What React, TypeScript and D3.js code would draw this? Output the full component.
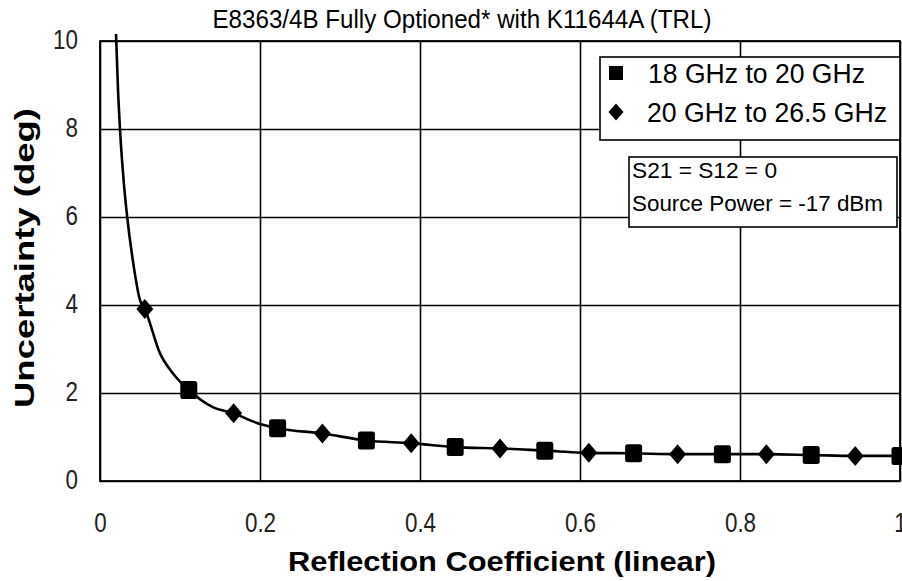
import React, { useEffect, useRef } from 'react';
import * as d3 from 'd3';

// 18 GHz to 20 GHz (squares)
const squareX = [0.111, 0.222, 0.333, 0.444, 0.556, 0.667, 0.778, 0.889, 1.0];
const squareY = [2.07, 1.2, 0.92, 0.77, 0.69, 0.63, 0.61, 0.59, 0.57];

// 20 GHz to 26.5 GHz (diamonds)
const diamondX = [0.056, 0.167, 0.278, 0.389, 0.5, 0.611, 0.722, 0.833, 0.944];
const diamondY = [3.91, 1.54, 1.08, 0.86, 0.74, 0.64, 0.61, 0.61, 0.57];

// extra points of the fitted curve between markers
const fitX = [0.02, 0.0225, 0.025, 0.03, 0.034, 0.041, 0.05, 0.075, 0.091, 0.141, 0.196];
const fitY = [10.16, 8.9, 8.0, 6.73, 6.0, 5.02, 4.11, 2.9, 2.45, 1.68, 1.32];

const xTicks = [0, 0.2, 0.4, 0.6, 0.8, 1];
const yTicks = [0, 2, 4, 6, 8, 10];

const FONT = '"Liberation Sans", Arial, sans-serif';
const SQ = 0.8; // narrow tick font

export default function App() {
  const svgRef = useRef<SVGSVGElement>(null);

  useEffect(() => {
    if (!svgRef.current) return;
    const svg = d3.select(svgRef.current);
    svg.selectAll('*').remove();

    const x = d3.scaleLinear().domain([0, 1]).range([100, 900]);
    const y = d3.scaleLinear().domain([0, 10]).range([481, 41]);

    svg.append('rect').attr('width', 902).attr('height', 581).attr('fill', '#fff');

    // grid
    const gx = svg.append('g')
      .attr('transform', 'translate(0,481)')
      .call(d3.axisBottom(x).tickValues(xTicks).tickSize(-440).tickFormat(() => ''));
    gx.select('.domain').remove();
    gx.selectAll('line').attr('stroke', '#000').attr('stroke-width', 1.6);

    const gy = svg.append('g')
      .attr('transform', 'translate(100,0)')
      .call(d3.axisLeft(y).tickValues(yTicks).tickSize(-800).tickFormat(() => ''));
    gy.select('.domain').remove();
    gy.selectAll('line').attr('stroke', '#000').attr('stroke-width', 1.6);

    svg.append('rect')
      .attr('x', 100).attr('y', 41).attr('width', 800).attr('height', 440)
      .attr('fill', 'none').attr('stroke', '#000').attr('stroke-width', 1.8);

    // tick labels
    const lx = svg.append('g')
      .attr('transform', 'translate(0,481)')
      .call(d3.axisBottom(x).tickValues(xTicks).tickSize(0).tickFormat(d3.format('~g')));
    lx.select('.domain').remove();
    lx.selectAll('text')
      .attr('font-family', FONT).attr('font-size', 28).attr('fill', '#222')
      .attr('y', 51).attr('dy', 0)
      .attr('transform', `scale(${SQ},1)`);

    const ly = svg.append('g')
      .attr('transform', 'translate(100,0)')
      .call(d3.axisLeft(y).tickValues(yTicks).tickSize(0).tickFormat(d3.format('d')));
    ly.select('.domain').remove();
    ly.selectAll('text')
      .attr('font-family', FONT).attr('font-size', 28).attr('fill', '#222')
      .attr('x', -22 / SQ).attr('dy', '0.25em')
      .attr('transform', `scale(${SQ},1)`);

    // curve
    const pts: [number, number][] = [];
    fitX.forEach((v, i) => pts.push([v, fitY[i]]));
    squareX.forEach((v, i) => pts.push([v, squareY[i]]));
    diamondX.forEach((v, i) => pts.push([v, diamondY[i]]));
    pts.sort((a, b) => a[0] - b[0]);

    const line = d3.line<[number, number]>()
      .x(d => x(d[0]))
      .y(d => y(d[1]))
      .curve(d3.curveMonotoneX);

    svg.append('path')
      .attr('d', line(pts) || '')
      .attr('fill', 'none')
      .attr('stroke', '#000')
      .attr('stroke-width', 2.6);

    const diamondPath = (hw: number, hh: number) => `M0,${-hh}L${hw},0L0,${hh}L${-hw},0Z`;

    svg.append('g').selectAll('rect')
      .data(squareX.map((v, i) => [v, squareY[i]]))
      .enter().append('rect')
      .attr('x', d => x(d[0]) - 8.5).attr('y', d => y(d[1]) - 9)
      .attr('width', 17).attr('height', 18).attr('rx', 2.5)
      .attr('fill', '#000');

    svg.append('g').selectAll('path')
      .data(diamondX.map((v, i) => [v, diamondY[i]]))
      .enter().append('path')
      .attr('transform', d => `translate(${x(d[0])},${y(d[1])})`)
      .attr('d', diamondPath(8.5, 10))
      .attr('fill', '#000');

    // title
    svg.append('text')
      .attr('x', 462).attr('y', 28)
      .attr('text-anchor', 'middle')
      .attr('font-family', FONT).attr('font-size', 25)
      .attr('textLength', 499).attr('lengthAdjust', 'spacingAndGlyphs')
      .text('E8363/4B Fully Optioned* with K11644A (TRL)');

    // axis titles
    svg.append('text')
      .attr('x', 502).attr('y', 571)
      .attr('text-anchor', 'middle')
      .attr('font-family', FONT).attr('font-size', 27).attr('font-weight', 'bold')
      .attr('textLength', 428).attr('lengthAdjust', 'spacingAndGlyphs')
      .text('Reflection Coefficient (linear)');

    svg.append('text')
      .attr('transform', 'translate(34,258) rotate(-90)')
      .attr('text-anchor', 'middle')
      .attr('font-family', FONT).attr('font-size', 27).attr('font-weight', 'bold')
      .attr('textLength', 300).attr('lengthAdjust', 'spacingAndGlyphs')
      .text('Uncertainty (deg)');

    // legend
    const lg = svg.append('g');
    lg.append('rect')
      .attr('x', 600).attr('y', 57).attr('width', 300).attr('height', 83)
      .attr('fill', '#fff').attr('stroke', '#000').attr('stroke-width', 1.6);
    lg.append('rect')
      .attr('x', 609).attr('y', 66).attr('width', 14).attr('height', 14).attr('fill', '#000');
    lg.append('path')
      .attr('transform', 'translate(616,112)')
      .attr('d', diamondPath(7.5, 8.5)).attr('fill', '#000');
    lg.append('text')
      .attr('x', 648).attr('y', 83)
      .attr('font-family', FONT).attr('font-size', 27)
      .attr('textLength', 217).attr('lengthAdjust', 'spacingAndGlyphs')
      .text('18 GHz to 20 GHz');
    lg.append('text')
      .attr('x', 647).attr('y', 122)
      .attr('font-family', FONT).attr('font-size', 27)
      .attr('textLength', 240).attr('lengthAdjust', 'spacingAndGlyphs')
      .text('20 GHz to 26.5 GHz');

    // conditions box
    const nb = svg.append('g');
    nb.append('rect')
      .attr('x', 629).attr('y', 157).attr('width', 268).attr('height', 70)
      .attr('fill', '#fff').attr('stroke', '#000').attr('stroke-width', 1.6);
    nb.append('text')
      .attr('x', 632).attr('y', 178)
      .attr('font-family', FONT).attr('font-size', 22)
      .attr('textLength', 145).attr('lengthAdjust', 'spacingAndGlyphs')
      .text('S21 = S12 = 0');
    nb.append('text')
      .attr('x', 632).attr('y', 211)
      .attr('font-family', FONT).attr('font-size', 22)
      .attr('textLength', 251).attr('lengthAdjust', 'spacingAndGlyphs')
      .text('Source Power = -17 dBm');
  }, []);

  return (
    <svg
      ref={svgRef}
      width={902}
      height={581}
      style={{ position: 'absolute', left: 0, top: 0, display: 'block' }}
    />
  );
}
